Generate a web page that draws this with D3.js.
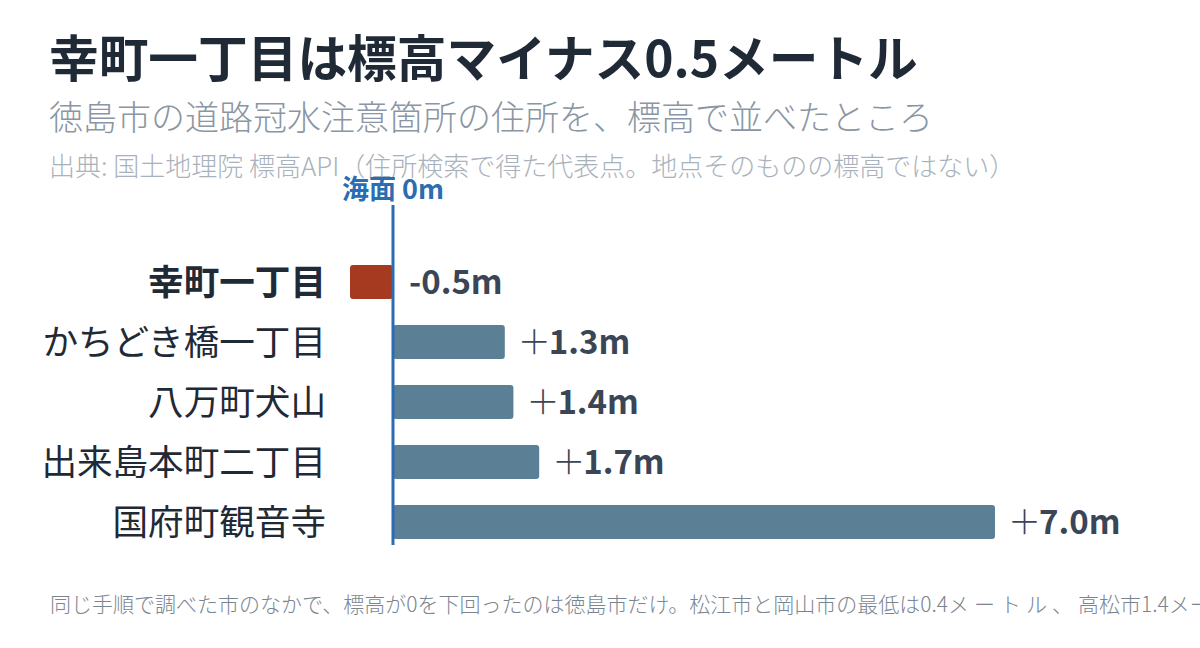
<!DOCTYPE html>
<html>
<head>
<meta charset="utf-8">
<script src="https://cdn.jsdelivr.net/npm/d3@7"></script>
<style>
  body { margin: 0; background: #fff; }
  svg { font-family: "Noto Sans CJK JP", "Noto Sans", sans-serif; }
</style>
</head>
<body>
<div id="chart"></div>
<script>
// data
const places = ['幸町一丁目', 'かちどき橋一丁目', '八万町犬山', '出来島本町二丁目', '国府町観音寺']
const elevations = [-0.5, 1.3, 1.4, 1.7, 7.0]
const highlight = '幸町一丁目'

const width = 1200, height = 648

const svg = d3.select('#chart').append('svg')
  .attr('width', width)
  .attr('height', height)

// scales
const xScale = d3.scaleLinear()
  .domain([0, 7])
  .range([393, 995])

const yScale = d3.scaleBand()
  .domain(places)
  .range([252, 552])
  .paddingInner(0.43)
  .paddingOuter(0.215)

// titles
svg.append('text')
  .attr('x', 49).attr('y', 77)
  .attr('font-size', 49.7).attr('font-weight', 700)
  .attr('fill', '#1f2a36')
  .text('幸町一丁目は標高マイナス0.5メートル')

svg.append('text')
  .attr('x', 49).attr('y', 130)
  .attr('font-size', 34).attr('font-weight', 300)
  .attr('fill', '#8a96a3')
  .text('徳島市の道路冠水注意箇所の住所を、標高で並べたところ')

svg.append('text')
  .attr('x', 49).attr('y', 176)
  .attr('font-size', 26).attr('font-weight', 300)
  .attr('fill', '#a9b2bc')
  .text('出典: 国土地理院 標高API（住所検索で得た代表点。地点そのものの標高ではない）')

// bars
svg.selectAll('rect.bar')
  .data(places)
  .join('rect')
  .attr('class', 'bar')
  .attr('x', (d, i) => xScale(Math.min(0, elevations[i])))
  .attr('y', d => yScale(d))
  .attr('width', (d, i) => Math.abs(xScale(elevations[i]) - xScale(0)))
  .attr('height', yScale.bandwidth())
  .attr('rx', 3)
  .attr('fill', d => d === highlight ? '#a63a21' : '#5b7f95')

// zero line
svg.append('line')
  .attr('x1', xScale(0)).attr('x2', xScale(0))
  .attr('y1', 205).attr('y2', 545)
  .attr('stroke', '#2b6cb3')
  .attr('stroke-width', 3)

svg.append('text')
  .attr('x', xScale(0)).attr('y', 199)
  .attr('text-anchor', 'middle')
  .attr('font-size', 27).attr('font-weight', 700)
  .attr('fill', '#2b6cb3')
  .text('海面 0m')

// category labels
svg.selectAll('text.cat')
  .data(places)
  .join('text')
  .attr('class', 'cat')
  .attr('x', 326)
  .attr('y', d => yScale(d) + yScale.bandwidth() / 2)
  .attr('dy', '0.36em')
  .attr('text-anchor', 'end')
  .attr('font-size', 35.6)
  .attr('font-weight', d => d === highlight ? 700 : 400)
  .attr('fill', '#1f2a36')
  .text(d => d)

// value labels, sign drawn thin like the original
const vals = svg.selectAll('text.val')
  .data(places)
  .join('text')
  .attr('class', 'val')
  .attr('x', (d, i) => Math.max(xScale(elevations[i]), xScale(0)) + 16)
  .attr('y', d => yScale(d) + yScale.bandwidth() / 2)
  .attr('dy', '0.36em')
  .attr('font-size', 33).attr('font-weight', 700)
  .attr('fill', '#3a4556')

vals.append('tspan')
  .attr('font-weight', 300)
  .attr('dx', (d, i) => elevations[i] > 0 ? -3 : 0)
  .attr('letter-spacing', -2)
  .text((d, i) => elevations[i] > 0 ? '＋' : '')

vals.append('tspan')
  .text((d, i) => elevations[i].toFixed(1) + 'm')

// footnote (runs off the right edge, as in the original)
const note = svg.append('text')
  .attr('x', 50).attr('y', 612)
  .attr('font-size', 21).attr('font-weight', 300)
  .attr('fill', '#7b8590')

note.append('tspan')
  .text('同じ手順で調べた市のなかで、標高が0を下回ったのは徳島市だけ。松江市と岡山市の最低は0.4')
note.append('tspan')
  .attr('letter-spacing', 5)
  .text('メートル、')
note.append('tspan')
  .text('高松市1.4メートル。')
</script>
</body>
</html>
